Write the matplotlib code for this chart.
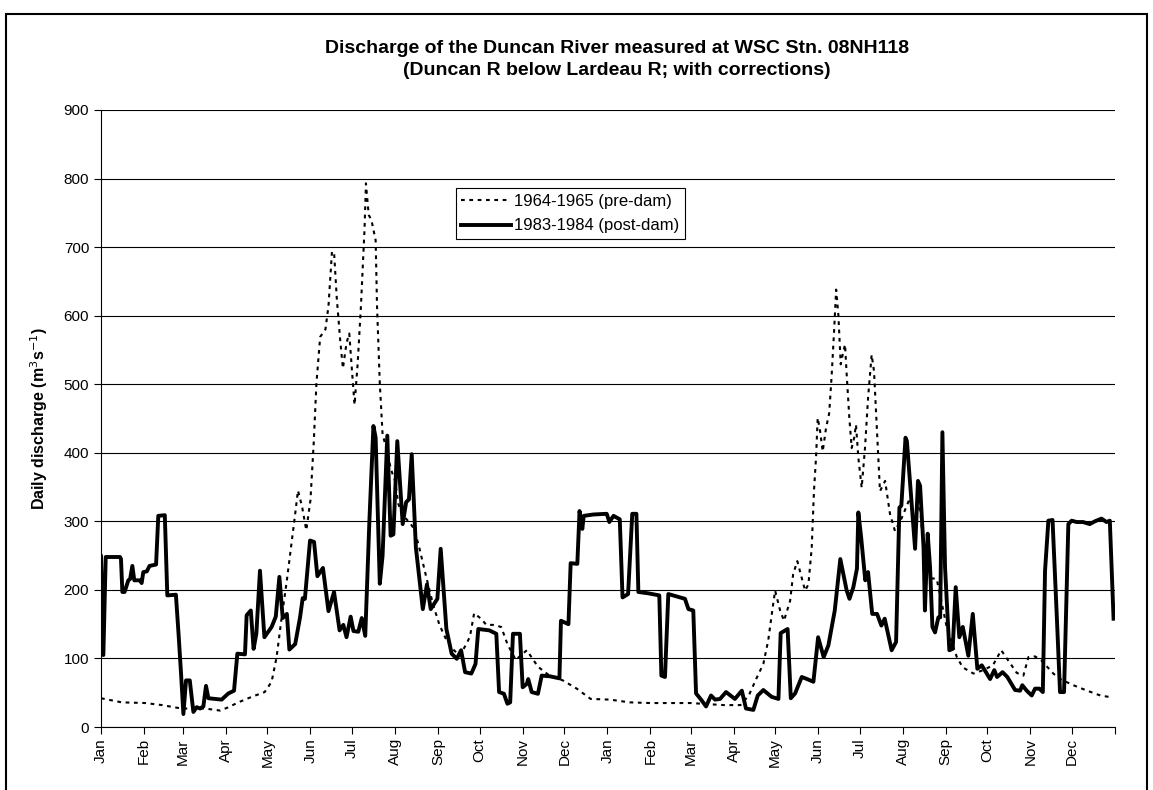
import matplotlib
matplotlib.use("Agg")
import matplotlib.pyplot as plt
from matplotlib.patches import Rectangle

plt.rcParams["font.family"] = ["Liberation Sans", "DejaVu Sans"]

# -----------------------------
# Data (day index from 1 Jan of first year, discharge m3/s)
# -----------------------------
pre_days = [0, 15, 32, 44, 58, 75, 86, 92, 99, 108.6, 118, 123, 126.6, 130, 134, 140, 142, 145, 148,
            151, 153.4, 155.3, 158, 161.8, 164, 166.5, 168, 170, 172.5, 174.4, 177, 179, 181, 182.8,
            185, 187.4, 190, 191, 193, 195, 198, 199, 201, 203, 206, 209, 212, 214.4, 218, 223, 226,
            230, 234.7, 239.5, 244, 249, 254, 258.6, 263.4, 266, 269, 274, 277.8, 282.6, 288.5, 293,
            299, 307, 315, 324, 333, 343, 353, 367, 381, 396, 425, 449, 461, 467, 473, 477.5, 481,
            484.3, 486, 489.6, 492.4, 496.8, 499, 502, 504.5, 507.6, 510, 512.4, 514, 515.5, 516.7,
            518.4, 520.3, 522.7, 525, 526.8, 528.5, 530, 531.6, 533.3, 534.7, 536.4, 537.6, 539.5,
            541.2, 543, 544.3, 546, 548.4, 550.8, 553, 555.6, 557.3, 559.2, 560.4, 561.6, 565.3,
            568.8, 572.4, 577.3, 583.2, 586.8, 590, 595, 602.5, 609.7, 617, 621.3, 629, 636, 643,
            649, 654.8, 660.2, 665, 668.6, 673.4, 678, 686.6, 691.4, 701, 711, 720.5, 726.5]
pre_q = [42, 36, 35, 32, 27, 27, 24, 29, 36, 44, 51, 66, 102, 156, 214, 311, 345, 321, 287,
         331, 416, 501, 569, 580, 614, 693, 693, 625, 563, 523, 560, 574, 518, 470,
         529, 614, 727, 793, 747, 739, 710, 614, 501, 427, 404, 376, 359, 325, 308, 297, 288,
         257, 217, 178, 149, 127, 113, 104, 121, 132, 166, 158, 149, 149, 146, 121,
         98, 112, 88, 74, 68, 56, 41, 40, 36, 35, 35, 32, 32, 46, 73, 92, 126,
         175, 199, 170, 155, 184, 223, 242, 223, 199, 208, 262, 344, 393, 451,
         432, 402, 436, 458, 514, 577, 638, 601, 529, 543, 558, 514, 451,
         407, 422, 441, 393, 349, 407, 480, 543, 519, 441, 393, 344, 359,
         311, 286, 305, 334, 300, 330, 218, 216, 146, 102, 87, 78, 83, 90,
         112, 95, 79, 75, 102, 103, 97, 78, 70, 61, 53, 46, 44]

post_days = [0, 1.7, 3.4, 6.5, 13.7, 14.4, 15.4, 17, 19.7, 21, 22.6, 24, 28, 29.3, 30.5, 33, 35,
             39.7, 41.3, 46, 47.8, 54, 56, 57.7, 59.4, 61.3, 64, 66.6, 69, 71.4, 73.8, 75.7, 77.4,
             87, 91.8, 95.9, 98.3, 103.8, 105, 108, 110, 112, 114.6, 117.8, 123, 126, 128.6, 131,
             134, 135.8, 140, 143.5, 145.4, 147, 150.7, 153.6, 156, 160, 164, 168, 172, 174.7, 177,
             180, 182, 185.5, 188, 190.5, 193.5, 196.4, 198, 201, 203, 206.4, 208.8, 210.8, 213.6,
             215, 217.5, 220, 222, 224, 227, 232, 235, 237.7, 242.5, 244.9, 249, 252.8, 256.5,
             259.6, 262.5, 267, 270, 272, 280, 285, 287, 290.5, 293, 295, 297, 302, 304, 307, 308,
             310.5, 315, 317.7, 323.7, 330.5, 331.6, 337, 338.6, 343.4, 345, 347, 348, 355, 364.6,
             366.5, 369.5, 374, 376, 380, 383, 386, 387.4, 394.6, 402.5, 404, 406.6, 409, 421,
             423.5, 427, 429, 433, 436.2, 439.8, 442.7, 446.3, 450.6, 457, 462, 465, 470.3, 473.5,
             477.5, 483.5, 488.4, 490, 495, 497.3, 500.4, 505.2, 509, 513.6, 517, 521, 524.4,
             526.8, 529, 533, 537.6, 539.6, 542.4, 545, 546, 548, 551, 553, 556, 559.5, 562.6,
             565, 570, 573.2, 575.6, 577, 580, 581, 586.9, 589, 590.5, 593, 594, 596, 597.7,
             599.4, 601.3, 603.7, 605, 606.6, 608.5, 611.6, 614, 616.2, 618.8, 621.3, 625.3,
             628.5, 631.8, 635, 638.6, 641, 644, 646, 650, 653.4, 659, 662.6, 664.2, 667.4, 671,
             673.4, 676.5, 679, 680.6, 683, 686, 689, 691.4, 694.3, 697.4, 699.8, 703.4, 708,
             712.8, 716.5, 721.3, 724.9, 727.3, 730]
post_q = [249, 105, 248, 248, 248, 245, 197, 197, 214, 216, 235, 214, 214, 210, 226, 227, 235,
          237, 308, 309, 192, 193, 133, 78, 19, 68, 68, 22, 29, 27, 30, 60, 42,
          40, 49, 53, 107, 106, 163, 170, 114, 136, 228, 131, 146, 161, 219, 159,
          165, 113, 121, 160, 188, 187, 272, 270, 220, 232, 169, 197, 141, 149, 131,
          161, 140, 139, 159, 133, 301, 439, 422, 209, 250, 425, 279, 281, 417,
          374, 296, 328, 332, 398, 262, 172, 208, 172, 187, 260, 143, 107, 99.5,
          112, 80, 78, 92, 143, 141, 136, 51, 48.5, 34, 36, 136, 136, 58, 63, 70,
          51, 48.5, 75, 74, 71, 155, 150, 239, 238, 315, 289, 308, 310, 311,
          299, 308, 303, 189, 194, 311, 311, 197, 195, 192, 75, 73, 194, 187,
          172, 170, 49, 39, 30, 46, 40, 41, 51, 41, 53, 27, 25, 46,
          54, 44, 41, 137, 143, 42, 49, 73, 70, 66, 131, 102, 119,
          146, 170, 245, 199, 187, 204, 231, 313, 277, 214, 226, 165, 165, 148,
          158, 112, 124, 320, 323, 422, 417, 260, 359, 352, 262, 170, 282, 233,
          146, 138, 160, 160, 430, 233, 112, 114, 204, 131, 146, 104,
          165, 85, 90, 78, 70, 83, 73, 80, 73, 54, 53, 61, 53, 46,
          56, 56, 51, 228, 301, 302, 165, 51, 51, 296, 301, 299, 299,
          296, 300, 304, 299, 301, 158]

month_starts = [0, 31, 59, 90, 120, 151, 181, 212, 243, 273, 304, 334,
                365, 396, 425, 456, 486, 517, 547, 578, 609, 639, 670, 700, 731]
month_labels = ["Jan", "Feb", "Mar", "Apr", "May", "Jun",
                "Jul", "Aug", "Sep", "Oct", "Nov", "Dec"] * 2 + [""]

# -----------------------------
# Figure
# -----------------------------
fig = plt.figure(figsize=(11.53, 7.9), dpi=100)
ax = fig.add_axes([0.0876, 0.0797, 0.8794, 0.7811])

ax.plot(pre_days, pre_q, color="black", linestyle=(0, (1.8, 2.2)), linewidth=1.5,
        label="1964-1965 (pre-dam)")
ax.plot(post_days, post_q, color="black", linewidth=2.8, solid_joinstyle="round",
        label="1983-1984 (post-dam)")

ax.set_xlim(0, 731)
ax.set_ylim(0, 900)
ax.set_yticks(range(0, 1000, 100))
ax.set_xticks(month_starts)
ax.set_xticklabels(month_labels, rotation=90, fontsize=11)
ax.tick_params(axis="y", labelsize=11, length=5, direction="out")
ax.tick_params(axis="x", length=5, direction="out", pad=3)
ax.yaxis.grid(True, color="black", linewidth=0.8)
ax.set_axisbelow(True)
for side in ["top", "right"]:
    ax.spines[side].set_visible(False)
ax.spines["left"].set_linewidth(0.8)
ax.spines["bottom"].set_linewidth(0.8)

ax.set_ylabel("Daily discharge (m$^3$s$^{-1}$)", fontsize=11.5, fontweight="bold", labelpad=10)
fig.text(0.535, 0.925, "Discharge of the Duncan River measured at WSC Stn. 08NH118\n"
         "(Duncan R below Lardeau R; with corrections)",
         ha="center", va="center", fontsize=14, fontweight="bold", linespacing=1.35)

leg = ax.legend(loc="upper left", bbox_to_anchor=(0.3497, 0.873), fontsize=12,
                frameon=True, fancybox=False, edgecolor="black", framealpha=1,
                handlelength=3.0, borderpad=0.35, labelspacing=0.55, handletextpad=0.15,
                borderaxespad=0)
leg.get_frame().set_linewidth(0.8)

# outer chart border
fig.patches.append(Rectangle((0.005, -0.01), 0.99, 0.992, transform=fig.transFigure,
                             fill=False, edgecolor="black", linewidth=1.5))

fig.savefig("out.png", dpi=100)
